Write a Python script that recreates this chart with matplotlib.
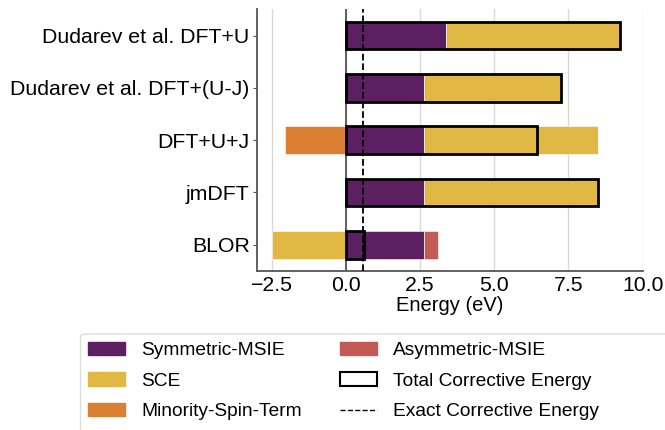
import matplotlib.pyplot as plt
import matplotlib.patches as mpatches
import matplotlib.lines as mlines
import numpy as np

plt.rcParams['font.family'] = ['Liberation Sans', 'DejaVu Sans']

methods = ['Dudarev et al. DFT+U', 'Dudarev et al. DFT+(U-J)', 'DFT+U+J', 'jmDFT', 'BLOR']
sym_msie = [3.37, 2.64, 2.64, 2.64, 2.64]
sce = [5.87, 4.61, 5.86, 5.86, -2.50]
minority = [0.0, 0.0, -2.04, 0.0, 0.0]
asym_msie = [0.0, 0.0, 0.0, 0.0, 0.48]
total = [9.24, 7.25, 6.45, 8.50, 0.62]
exact = 0.57

c_sym = '#5c2062'
c_sce = '#e2b844'
c_min = '#db8033'
c_asym = '#c45a55'

fig = plt.figure(figsize=(6.65, 4.3), dpi=100)
ax = fig.add_axes([0.386, 0.37, 0.5805, 0.608])

y = np.arange(len(methods))
h = 0.53
pos = np.zeros(len(methods))
neg = np.zeros(len(methods))
# stack positive parts to the right of zero, negative ones to the left
for vals, col in [(sym_msie, c_sym), (sce, c_sce), (minority, c_min), (asym_msie, c_asym)]:
    vals = np.array(vals)
    left = np.where(vals >= 0, pos, neg)
    ax.barh(y, vals, left=left, height=h, color=col, edgecolor='white', linewidth=0.4, zorder=2)
    pos = pos + np.clip(vals, 0, None)
    neg = neg + np.clip(vals, None, 0)

ax.barh(y, total, height=h, fill=False, edgecolor='black', linewidth=2, zorder=3)
ax.axvline(0, color='#555555', linewidth=1.3, zorder=1)
ax.axvline(exact, color='black', linestyle='--', linewidth=1.3, zorder=4)

ax.set_yticks(y)
ax.set_yticklabels(methods, fontsize=15.3)
ax.set_ylim(4.5, -0.5)
ax.set_xlim(-3.0, 10.0)
ax.set_xticks([-2.5, 0.0, 2.5, 5.0, 7.5, 10.0])
ax.tick_params(axis='x', labelsize=15.3, length=0, pad=3.5)
ax.tick_params(axis='y', length=3, color='#555555', pad=2)
ax.set_xlabel('Energy (eV)', fontsize=14.5, labelpad=1)
ax.grid(axis='x', color='#d9d9d9', linewidth=1, zorder=0)
ax.set_axisbelow(True)
for s in ['top', 'right']:
    ax.spines[s].set_visible(False)
for s in ['left', 'bottom']:
    ax.spines[s].set_color('#555555')
    ax.spines[s].set_linewidth(1.3)

handles = [
    mpatches.Patch(color=c_sym, label='Symmetric-MSIE'),
    mpatches.Patch(color=c_sce, label='SCE'),
    mpatches.Patch(color=c_min, label='Minority-Spin-Term'),
    mpatches.Patch(color=c_asym, label='Asymmetric-MSIE'),
    mpatches.Patch(facecolor='white', edgecolor='black', linewidth=1.5, label='Total Corrective Energy'),
    mlines.Line2D([], [], color='black', linestyle='--', linewidth=1, label='Exact Corrective Energy'),
]
leg = fig.legend(handles=handles, ncol=2, loc='upper left', bbox_to_anchor=(0.120, 0.2256),
                 fontsize=13.8, frameon=False, handlelength=1.9, handleheight=0.72,
                 columnspacing=2.0, labelspacing=0.68, borderpad=0.45, handletextpad=0.86,
                 borderaxespad=0)

# legend frame runs off the right and bottom edges in the original
frame = mpatches.FancyBboxPatch((80.5 / 665, -0.05), 0.95, 0.05 + (430 - 334) / 430,
                                boxstyle='round,pad=0,rounding_size=0.008',
                                transform=fig.transFigure, facecolor='white',
                                edgecolor='#dddddd', linewidth=1, zorder=0)
fig.patches.append(frame)

fig.savefig('out.png', dpi=100)
